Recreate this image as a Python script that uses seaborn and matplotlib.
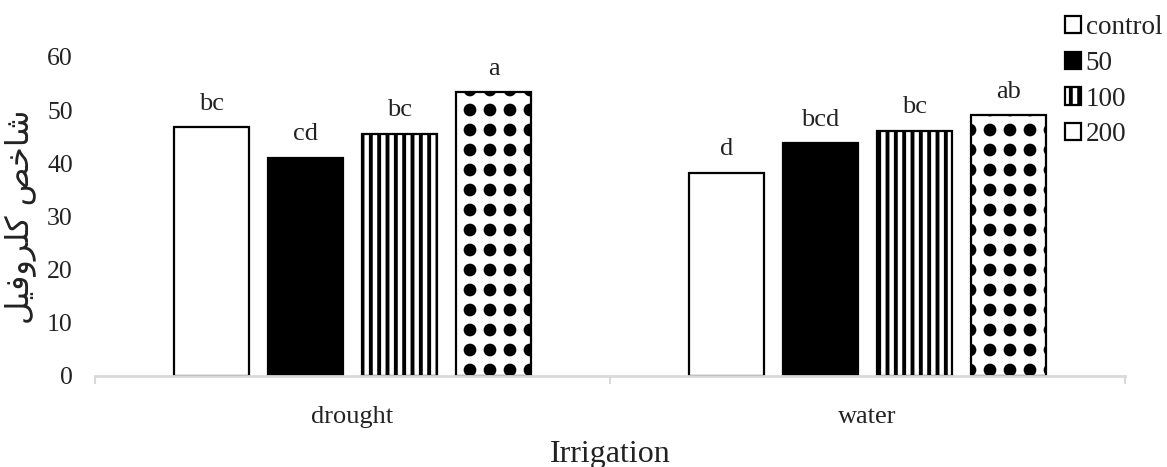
import numpy as np
import pandas as pd
import matplotlib
matplotlib.use("Agg")
import matplotlib.pyplot as plt
import matplotlib.hatch as mhatch
from matplotlib.path import Path
from matplotlib.patches import Patch
from matplotlib.ticker import FixedLocator
import seaborn as sns

# ---------------- data ----------------
irrigation = ["drought", "water"]
treatments = ["control", "50", "100", "200"]
drought_vals = [46.8, 41.0, 45.6, 53.4]
water_vals = [38.2, 43.8, 46.1, 49.0]
drought_letters = ["bc", "cd", "bc", "a"]
water_letters = ["d", "bcd", "bc", "ab"]
y_ticks = [0, 10, 20, 30, 40, 50, 60]
x_title = "Irrigation"
y_title = "شاخص کلروفیل"

# ---------------- simple Arabic shaping for display ----------------
FORMS = {
    "ش": ("\uFEB5", "\uFEB6", "\uFEB7", "\uFEB8"),
    "ا": ("\uFE8D", "\uFE8E", None, None),
    "خ": ("\uFEA5", "\uFEA6", "\uFEA7", "\uFEA8"),
    "ص": ("\uFEB9", "\uFEBA", "\uFEBB", "\uFEBC"),
    "ک": ("\uFB8E", "\uFB8F", "\uFB90", "\uFB91"),
    "ل": ("\uFEDD", "\uFEDE", "\uFEDF", "\uFEE0"),
    "ر": ("\uFEAD", "\uFEAE", None, None),
    "و": ("\uFEED", "\uFEEE", None, None),
    "ف": ("\uFED1", "\uFED2", "\uFED3", "\uFED4"),
    "ی": ("\uFBFC", "\uFBFD", "\uFBFE", "\uFBFF"),
}
NONJOIN = set("اروزژدذ")


def shape_rtl(s):
    out = []
    for i, c in enumerate(s):
        if c not in FORMS:
            out.append(c)
            continue
        prev = s[i - 1] if i > 0 else None
        nxt = s[i + 1] if i + 1 < len(s) else None
        jp = prev in FORMS and prev not in NONJOIN
        jn = nxt in FORMS and c not in NONJOIN
        iso, fin, ini, med = FORMS[c]
        if jp and jn:
            g = med
        elif jp:
            g = fin
        elif jn:
            g = ini
        else:
            g = iso
        out.append(g)
    return "".join(reversed(out))


# ---------------- custom square-grid dot hatch (replaces '*') ----------------
class GridDots(mhatch.HatchPatternBase):
    def __init__(self, hatch, density):
        self.n = hatch.count("*") * 5
        circ = Path.unit_circle()
        self.sv = circ.vertices
        self.sc = circ.codes
        self.num_vertices = self.n * self.n * len(self.sv)

    def set_vertices_and_codes(self, vertices, codes):
        step = 1.0 / self.n
        verts = self.sv * (0.22 * step)
        k = len(verts)
        cur = 0
        for i in range(self.n):
            for j in range(self.n):
                vertices[cur:cur + k] = verts + [(j + 0.5) * step, (i + 0.5) * step]
                codes[cur:cur + k] = self.sc
                cur += k


mhatch._hatch_types = [h for h in mhatch._hatch_types if h is not mhatch.Stars] + [GridDots]

# ---------------- figure ----------------
sns.set_theme(style="white")
plt.rcParams["font.family"] = ["Liberation Serif", "DejaVu Sans"]
plt.rcParams["hatch.linewidth"] = 2.8
plt.rcParams["hatch.color"] = "black"

df = pd.DataFrame({
    "Irrigation": np.repeat(irrigation, len(treatments)),
    "Treatment": treatments * len(irrigation),
    "Value": drought_vals + water_vals,
    "Letter": drought_letters + water_letters,
})

fig = plt.figure(figsize=(11.67, 4.67), dpi=100)
ax = fig.add_axes([0.0814, 0.195, 0.8826, 0.683])

sns.barplot(data=df, x="Irrigation", y="Value", hue="Treatment",
            hue_order=treatments, order=irrigation, ax=ax,
            width=0.73, gap=0.2, legend=False, errorbar=None)

faces = ["white", "black", "white", "white"]
hatches = [None, None, "||", "*"]
for cont, fc, hh, t in zip(ax.containers, faces, hatches, treatments):
    for bar, irr in zip(cont, irrigation):
        bar.set_facecolor(fc)
        bar.set_edgecolor("black")
        bar.set_linewidth(1.6)
        if hh:
            bar.set_hatch(hh)
        lab = df.loc[(df.Irrigation == irr) & (df.Treatment == t), "Letter"].iloc[0]
        ax.annotate(lab, (bar.get_x() + bar.get_width() / 2, bar.get_height()),
                    xytext=(0, 9), textcoords="offset points",
                    ha="center", va="bottom", fontsize=19, color="#222222")

ax.set_ylim(0, 60)
ax.set_xlim(-0.5, 1.5)
ax.set_yticks(y_ticks)
ax.tick_params(axis="y", length=0, pad=16, labelsize=18.5, labelcolor="#222222")
ax.tick_params(axis="x", which="major", length=0, pad=22, labelsize=19, labelcolor="#222222")
ax.xaxis.set_minor_locator(FixedLocator([-0.5, 0.5, 1.5]))
ax.tick_params(axis="x", which="minor", length=6, width=1.5, color="#d9d9d9", bottom=True)

for s in ["left", "right", "top"]:
    ax.spines[s].set_visible(False)
ax.spines["bottom"].set_color("#d9d9d9")
ax.spines["bottom"].set_linewidth(2)

ax.set_xlabel(x_title, fontsize=23, color="#222222", labelpad=8)
ax.set_ylabel(shape_rtl(y_title), fontsize=23, color="#222222",
              family=["DejaVu Sans"], labelpad=7)
ax.grid(False)

handles = [
    Patch(facecolor="white", edgecolor="black", linewidth=1.6, label="control"),
    Patch(facecolor="black", edgecolor="black", linewidth=1.6, label="50"),
    Patch(facecolor="white", edgecolor="black", linewidth=1.6, hatch="||", label="100"),
    Patch(facecolor="white", edgecolor="black", linewidth=1.6, label="200"),
]
leg = fig.legend(handles=handles, loc="upper left", bbox_to_anchor=(0.9, 1.0),
                 frameon=False, fontsize=19.5, handlelength=0.6, handleheight=0.6,
                 handletextpad=0.15, labelspacing=0.4, borderaxespad=0.15)
for txt in leg.get_texts():
    txt.set_color("#222222")

fig.savefig("out.png", dpi=100)
